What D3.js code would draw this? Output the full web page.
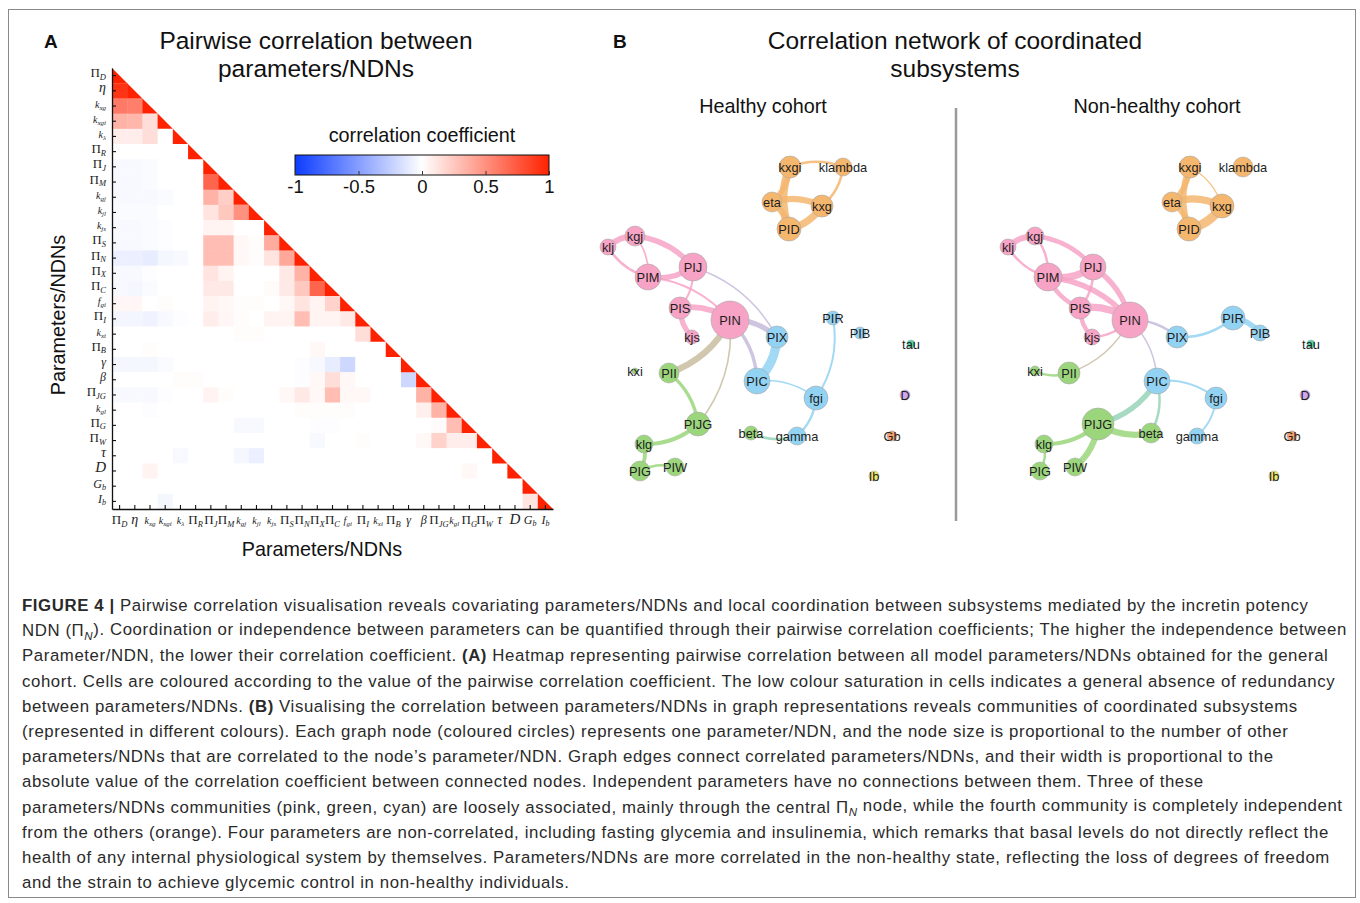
<!DOCTYPE html>
<html>
<head>
<meta charset="utf-8">
<script src="https://cdn.jsdelivr.net/npm/d3@7"></script>
<style>
body { margin: 0; background: #fff; }
svg { display: block; }
text { font-family: "Liberation Sans", Arial, sans-serif; }
</style>
</head>
<body>
<script>
// ---- data: heatmap ----
var labels = [["Π","D"],["η",""],["k","xg"],["k","xgi"],["k","λ"],["Π","R"],["Π","J"],["Π","M"],
  ["k","gj"],["k","jl"],["k","js"],["Π","S"],["Π","N"],["Π","X"],["Π","C"],["f","gi"],["Π","I"],
  ["k","xi"],["Π","B"],["γ",""],["β",""],["Π","JG"],["k","gl"],["Π","G"],["Π","W"],["τ",""],
  ["D",""],["G","b"],["I","b"]];

// lower triangle of the correlation matrix, row i holds columns 0..i-1
var corrRows = [
  [],
  [0.92],
  [0.6,0.58],
  [0.35,0.33,0.15],
  [0.08,0.08,0.15,0],
  [0,0,0,0,0],
  [-0.03,-0.03,-0.02,0,0,0],
  [-0.03,-0.03,-0.02,0,0,0,0.7],
  [-0.03,-0.03,-0.03,-0.02,0,0,0.35,0.22],
  [-0.02,-0.02,-0.02,0,0,0,0.12,0.25,0.5],
  [-0.03,-0.03,-0.02,-0.01,0,0,0.05,0.05,0,0],
  [-0.03,-0.03,-0.02,-0.01,0,0,0.3,0.3,0.03,0.01,0.38],
  [-0.08,-0.08,-0.1,-0.04,-0.03,0,0.3,0.3,0.03,0.01,0.12,0.4],
  [-0.03,-0.03,-0.01,0,0,0,0.12,0.05,0,0,0,0.1,0.35],
  [-0.03,-0.04,-0.02,0,0,0,0.1,0.1,0,0,0.02,0.1,0.25,0.7],
  [0.04,0.04,0,0.01,0,0,0.05,0.03,0.01,0.01,0,0.03,0.12,0.05,0.2],
  [-0.05,-0.05,-0.06,-0.03,-0.01,0,0.08,0.04,0.01,0,0.05,0.05,0.3,0.05,0.05,0.1],
  [0,0,0,0,0,0,0,0,0.01,0.01,0,0,0,0,0,0,0.15],
  [0,0,0.01,0,0,0,0,0,0,0,0,0,0,0.03,0,0,0,0],
  [-0.04,-0.04,-0.04,-0.02,0,0,0,0,0,0,0,0,-0.01,-0.03,-0.1,-0.2,0,0,0],
  [0,0,0,0,0.01,0.01,0,0,0,0,0,0,-0.01,0.03,0.15,0.03,0,0,0,-0.2],
  [-0.03,-0.03,-0.03,-0.01,0,0,0.05,0.01,0,0,0,0.03,0.1,0.03,0.3,0.03,0.03,0,0,0,0.35],
  [0,0,-0.01,0,0,0,0,0,0,0,0,0,0.01,0.01,0.01,0.01,0,0,0,0,0.07,0.35],
  [0,0,0,0,0,0,0,0,-0.03,-0.03,0,0,0,-0.01,-0.01,0,0,0,0,0,0,0.02,0.3],
  [0,0,0,0,0,0,0,0,0,0,0,0,0,-0.03,0,0,0.01,0,0,0,0.03,0.2,0.08,0.08],
  [0,0,0,0,-0.03,0,0,0,-0.04,-0.08,0,0,0,0,0,0,0,0,0,0,0,0,0,0,0],
  [0,0,0.05,0,0,0,0,0,0,0,0,0,0,0,0,0,0,0,0,0,0,0,0,0.03,0,0],
  [0,0,0,0,0,0,0,0,0,0,0,0,0,0,0,0,0,0,0,0,0,0,0,0,0,0,0],
  [0,0,0,-0.04,0,0,0,0,0,0,0,0,0,0,0,0,0,0,0,0,0,0,0,0,0,0,0,0.12]
];
var legendTicks = [-1, -0.5, 0, 0.5, 1];

// ---- data: networks ----
var nodeNames = ["kxgi","klambda","eta","kxg","PID","kgj","klj","PIJ","PIM","PIS","PIN","kjs",
  "PIX","PIR","PIB","PIC","fgi","gamma","kxi","PII","PIJG","beta","klg","PIG","PIW","tau","D","Gb","Ib"];
var nodeGroup = ["or","or","or","or","or","pk","pk","pk","pk","pk","pk","pk",
  "cy","cy","cy","cy","cy","cy","gr","gr","gr","gr","gr","gr","gr","tau","D","Gb","Ib"];
// force layout coordinates (shared by both cohorts)
var layoutX = [190,243,172,222,189,35,8,93,48,80,130,92,177,233,260,157,216,197,35,69,98,151,44,40,75,311,305,292,274];
var layoutY = [17,17,52,56,79,86,97,117,127,158,170,187,187,168,183,231,248,286,221,223,274,283,294,321,317,194,245,286,326];
// node degree (size)
var degreeHealthy = [4,3,3.5,4,4.5,3.5,2.5,5.5,5,4,8,2,4,2,1.5,5,4.5,3,0,3.5,4.5,2,3,3.5,3,0.5,1,1,1];
var degreeNonHealthy = [4,3.5,3.5,4.5,4.5,3,2.5,5,5.5,4,7.5,2.5,4,4.5,2.5,5,4,2.5,1,4,6.5,3.5,3,3,3,0.5,1,1,1];

var edgesHealthy = [
  ["PID","kxgi",0.8],["kxgi","eta",0.5],["eta","PID",0.6],["eta","kxg",0.6],["kxg","PID",0.7],
  ["kxgi","klambda",0.2],["klambda","kxg",0.2],
  ["klj","kgj",0.6],["kgj","PIJ",0.5],["PIM","klj",0.2],["kgj","PIM",0.12],["PIJ","PIM",0.5],
  ["PIM","PIN",0.15],["PIJ","PIS",0.15],["PIS","PIN",0.55],["kjs","PIS",0.5],
  ["PIJ","PIX",0.1],["PIN","PIX",0.5],["PIN","PIC",0.3],["PIN","PII",0.6],["PIN","PIJG",0.1],
  ["PIX","PIC",0.9],["PIC","fgi",0.1],["PIR","fgi",0.15],["fgi","gamma",0.2],["gamma","beta",0.2],
  ["PII","PIJG",0.3],["PIJG","klg",0.4],["klg","PIG",0.35],["PIG","PIW",0.2]
];
var edgesNonHealthy = [
  ["PID","kxgi",0.6],["kxgi","eta",0.5],["eta","PID",0.5],["eta","kxg",0.7],["kxg","PID",0.9],["kxgi","kxg",0.08],
  ["klj","kgj",0.6],["PIM","klj",0.2],["kgj","PIM",0.2],["kgj","PIJ",0.4],["PIJ","PIM",0.7],
  ["PIM","PIN",0.5],["PIS","PIM",0.4],["PIJ","PIS",0.2],["PIJ","PIN",0.5],["PIS","PIN",0.7],
  ["kjs","PIS",0.4],["PIN","kjs",0.2],
  ["PIN","PIX",0.2],["PIN","PIC",0.1],["PIN","PII",0.1],
  ["PIR","PIX",0.2],["PIR","PIB",0.5],["PIC","fgi",0.15],["fgi","gamma",0.15],
  ["PIC","PIJG",0.5],["PIC","beta",0.2],
  ["PII","kxi",0.2],["beta","PIJG",0.6],["PIJG","klg",0.4],["PIJG","PIW",0.6],["klg","PIG",0.2]
];

var groupColor = {or:"#f5b66e", pk:"#f7a3c5", cy:"#92d2f3", gr:"#9bd67c",
  tau:"#4fd6a6", D:"#d1a9ef", Gb:"#f59f6c", Ib:"#f1e76a"};

// ---- caption ----
var captionLines = [
  [["FIGURE 4 | ","b"],["Pairwise correlation visualisation reveals covariating parameters/NDNs and local coordination between subsystems mediated by the incretin potency"]],
  [["NDN ("],["Π"],["N","sub"],["). Coordination or independence between parameters can be quantified through their pairwise correlation coefficients; The higher the independence between"]],
  [["Parameter/NDN, the lower their correlation coefficient. "],["(A)","b"],[" Heatmap representing pairwise correlation between all model parameters/NDNs obtained for the general"]],
  [["cohort. Cells are coloured according to the value of the pairwise correlation coefficient. The low colour saturation in cells indicates a general absence of redundancy"]],
  [["between parameters/NDNs. "],["(B)","b"],[" Visualising the correlation between parameters/NDNs in graph representations reveals communities of coordinated subsystems"]],
  [["(represented in different colours). Each graph node (coloured circles) represents one parameter/NDN, and the node size is proportional to the number of other"]],
  [["parameters/NDNs that are correlated to the node’s parameter/NDN. Graph edges connect correlated parameters/NDNs, and their width is proportional to the"]],
  [["absolute value of the correlation coefficient between connected nodes. Independent parameters have no connections between them. Three of these"]],
  [["parameters/NDNs communities (pink, green, cyan) are loosely associated, mainly through the central "],["Π"],["N","sub"],[" node, while the fourth community is completely independent"]],
  [["from the others (orange). Four parameters are non-correlated, including fasting glycemia and insulinemia, which remarks that basal levels do not directly reflect the"]],
  [["health of any internal physiological system by themselves. Parameters/NDNs are more correlated in the non-healthy state, reflecting the loss of degrees of freedom"]],
  [["and the strain to achieve glycemic control in non-healthy individuals."]]
];

var W = 1360, H = 903;
var svg = d3.select("body").append("svg").attr("width", W).attr("height", H);

svg.append("rect").attr("x", 8.5).attr("y", 9.5).attr("width", 1347).attr("height", 888)
  .attr("fill", "none").attr("stroke", "#8a8a8a").attr("stroke-width", 1);

// ---- titles ----
function title(x, y, txt, size, weight, anchor) {
  return svg.append("text").attr("x", x).attr("y", y).attr("font-size", size)
    .attr("font-weight", weight || "normal").attr("text-anchor", anchor || "middle")
    .attr("fill", "#111").text(txt);
}
title(44, 48, "A", 19, "bold", "start");
title(316, 49, "Pairwise correlation between", 24.5);
title(316, 77, "parameters/NDNs", 24.5);
title(613, 48, "B", 19, "bold", "start");
title(955, 49, "Correlation network of coordinated", 24.5);
title(955, 77, "subsystems", 24.5);
title(763, 113, "Healthy cohort", 19.8);
title(1157, 113, "Non-healthy cohort", 19.8);

svg.append("line").attr("x1", 956).attr("x2", 956).attr("y1", 108).attr("y2", 521)
  .attr("stroke", "#9a9a9a").attr("stroke-width", 2.5);

// ---- heatmap ----
var n = labels.length;
var x = d3.scaleBand().domain(d3.range(n)).range([112, 553]);
var y = d3.scaleBand().domain(d3.range(n)).range([68, 509]);
var bw = x.bandwidth();
var color = d3.scaleLinear().domain([-1, 0, 1]).range(["#0c3cff", "#ffffff", "#ff2200"]);

var cells = [];
corrRows.forEach(function(row, i) {
  row.forEach(function(v, j) { cells.push({i: i, j: j, v: v}); });
});
var hm = svg.append("g");
hm.selectAll("rect.cell").data(cells).enter().append("rect")
  .attr("x", function(d) { return x(d.j); })
  .attr("y", function(d) { return y(d.i); })
  .attr("width", bw + 0.4).attr("height", bw + 0.4)
  .attr("fill", function(d) { return color(d.v); });
hm.selectAll("path.diag").data(d3.range(n)).enter().append("path")
  .attr("d", function(i) {
    var x0 = x(i), y0 = y(i);
    return "M" + x0 + "," + y0 + "L" + x0 + "," + (y0 + bw) + "L" + (x0 + bw) + "," + (y0 + bw) + "Z";
  })
  .attr("fill", color(1));

function labelSizes(l) {
  if (l[0] === "k" || l[0] === "f") return [10, 7];
  if (l[0] === "D") return [15, 9];
  if (l[0] === "τ") return [14, 9];
  if (l[0] === "G" || l[0] === "I") return [12, 8];
  if (l[0] === "η") return [14, 9];
  if (l[0] === "γ" || l[0] === "β") return [12, 8];
  return [13, 8.5];
}
function richLabel(sel, l) {
  var s = labelSizes(l);
  sel.append("tspan").attr("font-size", s[0])
    .attr("font-style", l[0] === "Π" ? "normal" : "italic").text(l[0]);
  if (l[1]) sel.append("tspan").attr("font-size", s[1]).attr("font-style", "italic")
    .attr("dy", "0.3em").text(l[1]);
}

var yAxis = d3.axisLeft(y).tickSize(-4).tickSizeOuter(0).tickFormat("");
var gy = svg.append("g").attr("transform", "translate(112,0)").call(yAxis);
var xAxis = d3.axisBottom(x).tickSize(-4).tickSizeOuter(0).tickFormat("");
var gx = svg.append("g").attr("transform", "translate(0,509)").call(xAxis);
[gy, gx].forEach(function(g) {
  g.select(".domain").attr("stroke", "#111").attr("stroke-width", 1.3);
  g.selectAll(".tick line").attr("stroke", "#111").attr("stroke-width", 1.1);
});
gy.selectAll(".tick").each(function(i) {
  var t = d3.select(this).append("text").attr("x", -6).attr("y", 0).attr("dy", "0.15em")
    .attr("text-anchor", "end").attr("fill", "#222")
    .style("font-family", "'Liberation Serif', 'Times New Roman', serif");
  richLabel(t, labels[i]);
});
gx.selectAll(".tick").each(function(i) {
  var t = d3.select(this).append("text").attr("x", 0).attr("y", 15)
    .attr("text-anchor", "middle").attr("fill", "#222")
    .style("font-family", "'Liberation Serif', 'Times New Roman', serif");
  richLabel(t, labels[i]);
});

svg.append("text").attr("transform", "translate(65,315) rotate(-90)")
  .attr("text-anchor", "middle").attr("font-size", 19.8).attr("fill", "#111").text("Parameters/NDNs");
svg.append("text").attr("x", 322).attr("y", 556)
  .attr("text-anchor", "middle").attr("font-size", 19.8).attr("fill", "#111").text("Parameters/NDNs");

// ---- colour legend ----
var lx = d3.scaleLinear().domain([-1, 1]).range([295, 549]);
var grad = svg.append("defs").append("linearGradient").attr("id", "cbar");
d3.range(0, 1.0001, 0.1).forEach(function(t) {
  grad.append("stop").attr("offset", t).attr("stop-color", color(-1 + 2 * t));
});
title(422, 142, "correlation coefficient", 19.8);
svg.append("rect").attr("x", lx(-1)).attr("y", 155).attr("width", lx(1) - lx(-1)).attr("height", 20)
  .attr("fill", "url(#cbar)").attr("stroke", "#111").attr("stroke-width", 1);
var la = svg.append("g").attr("transform", "translate(0,175)")
  .call(d3.axisBottom(lx).tickValues(legendTicks).tickSize(-4).tickPadding(5)
    .tickFormat(function(d) { return d === 0 ? "0" : String(d); }));
la.select(".domain").remove();
la.selectAll(".tick line").attr("stroke", "#333");
la.selectAll(".tick text").attr("font-size", 18.5).attr("fill", "#111")
  .style("font-family", "'Liberation Sans', Arial, sans-serif");

// ---- networks ----
function drawNetwork(x0, degrees, edges) {
  var nx = d3.scaleLinear().domain([0, 330]).range([x0, x0 + 330]);
  var ny = d3.scaleLinear().domain([0, 330]).range([150, 480]);
  var r = d3.scaleLinear().domain([0, 8]).range([3, 19]);
  var ew = d3.scaleLinear().domain([0, 1]).range([0.6, 10]);
  var nodes = nodeNames.map(function(name, k) {
    return {name: name, x: nx(layoutX[k]), y: ny(layoutY[k]), r: r(degrees[k]), c: groupColor[nodeGroup[k]]};
  });
  var byName = {};
  nodes.forEach(function(d) { byName[d.name] = d; });
  var g = svg.append("g");
  g.selectAll("path.edge").data(edges).enter().append("path")
    .attr("d", function(e) {
      var s = byName[e[0]], t = byName[e[1]];
      var dx = t.x - s.x, dy = t.y - s.y, k = 0.2;
      var cx = (s.x + t.x) / 2 + dy * k, cy = (s.y + t.y) / 2 - dx * k;
      return "M" + s.x + "," + s.y + "Q" + cx + "," + cy + " " + t.x + "," + t.y;
    })
    .attr("fill", "none")
    .attr("stroke", function(e) { return d3.interpolateRgb(byName[e[0]].c, byName[e[1]].c)(0.5); })
    .attr("stroke-opacity", 0.85)
    .attr("stroke-width", function(e) { return ew(e[2]); });
  g.selectAll("circle").data(nodes).enter().append("circle")
    .attr("cx", function(d) { return d.x; }).attr("cy", function(d) { return d.y; })
    .attr("r", function(d) { return d.r; })
    .attr("fill", function(d) { return d.c; })
    .attr("stroke", "#a8a8a8").attr("stroke-width", 0.6);
  g.selectAll("text").data(nodes).enter().append("text")
    .attr("x", function(d) { return d.x; }).attr("y", function(d) { return d.y + 4.5; })
    .attr("text-anchor", "middle").attr("font-size", 12.8).attr("fill", "#1e1e1e")
    .text(function(d) { return d.name; });
}
drawNetwork(600, degreeHealthy, edgesHealthy);
drawNetwork(1000, degreeNonHealthy, edgesNonHealthy);

// ---- caption ----
var cap = svg.append("g");
captionLines.forEach(function(line, li) {
  var t = cap.append("text").attr("x", 22).attr("y", 611 + li * 25.2)
    .attr("font-size", 16.8).attr("letter-spacing", 0.6).attr("fill", "#2a2a2a");
  line.forEach(function(seg) {
    var sp = t.append("tspan").text(seg[0]);
    if (seg[1] === "b") sp.attr("font-weight", "bold");
    if (seg[1] === "sub") {
      sp.attr("font-style", "italic").attr("font-size", 11.5).attr("dy", "0.3em");
    }
  });
  // return baseline after a subscript
  t.selectAll("tspan").each(function(d, k, all) {
    if (k > 0 && d3.select(all[k - 1]).attr("dy") === "0.3em") d3.select(this).attr("dy", "-0.3em");
  });
});
</script>
</body>
</html>
